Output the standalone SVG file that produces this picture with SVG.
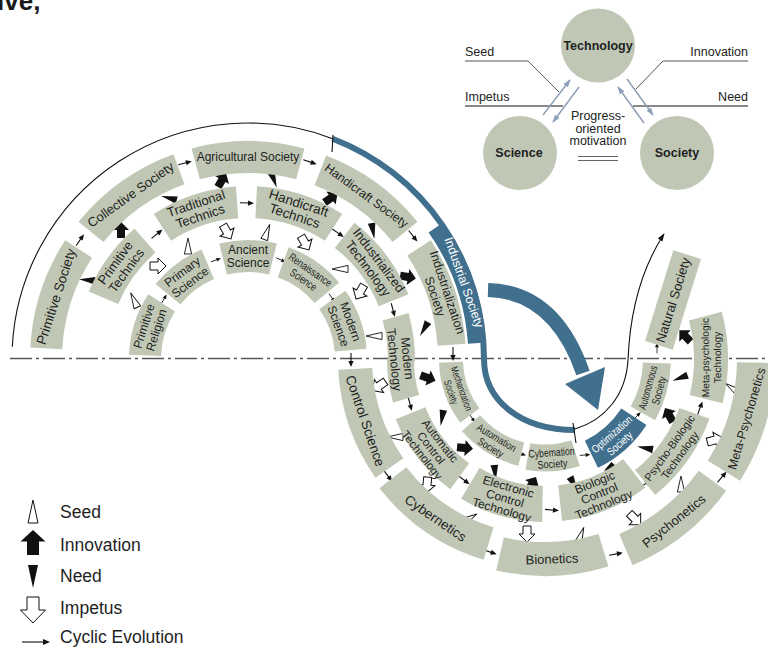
<svg xmlns="http://www.w3.org/2000/svg" width="768" height="647" viewBox="0 0 768 647">
<style>
.arc{fill:none;stroke:#c0c8b5}
.barc{fill:none;stroke:#41708e}
.t{font-family:"Liberation Sans",Arial,sans-serif;fill:#1e1e1e;text-anchor:middle}
.w{fill:#ffffff}
.leg{font-family:"Liberation Sans",Arial,sans-serif;font-size:17.5px;fill:#1e1e1e}
.ins{font-family:"Liberation Sans",Arial,sans-serif;font-size:12.5px;fill:#222}
.bold{font-weight:bold;text-anchor:middle}
.gline{stroke:#8ea0b5;stroke-width:1.5;fill:none}
</style>
<defs>
<g id="cyc"><line x1="-7" y1="0" x2="2" y2="0" stroke="#111" stroke-width="1.1"/><polygon points="7,0 1,-2.6 1,2.6" fill="#111"/></g>
<polygon id="seed" points="8,0 -8,-3.6 -8,3.6" fill="#fff" stroke="#111" stroke-width="0.9"/>
<polygon id="need" points="8,0 -8,-3.8 -8,3.8" fill="#111"/>
<polygon id="inno" points="8,0 0,-8 0,-4 -8,-4 -8,4 0,4 0,8" fill="#111"/>
<polygon id="imp" points="8,0 0,-8 0,-4 -8,-4 -8,4 0,4 0,8" fill="#fff" stroke="#111" stroke-width="1"/>
<marker id="ah" viewBox="0 0 10 10" refX="9" refY="5" markerWidth="8" markerHeight="8" orient="auto" markerUnits="userSpaceOnUse"><path d="M0,1.5 L10,5 L0,8.5 z" fill="#111"/></marker>
<marker id="ga" viewBox="0 0 10 10" refX="9" refY="5" markerWidth="8" markerHeight="8" orient="auto" markerUnits="userSpaceOnUse"><path d="M0,1.5 L10,5 L0,8.5 z" fill="#8ea0b5"/></marker>
</defs>

<text x="-3" y="10" font-family="Liberation Sans, Arial, sans-serif" font-size="26" font-weight="bold" fill="#1a1a1a">ive,</text>

<line x1="10" y1="358.5" x2="768" y2="358.5" stroke="#555" stroke-width="1.3" stroke-dasharray="22 4 3 4"/>

<g id="connectors">
  <path d="M12.3,346.7 A236,236 0 0 1 332.6,138.7" fill="none" stroke="#111" stroke-width="1.1"/>
  <path d="M332.6,138.7 A236,236 0 0 1 484,359 C484,400 520,430 575,430" fill="none" stroke="#41708e" stroke-width="6"/>
  <line x1="333" y1="135" x2="332" y2="152" stroke="#111" stroke-width="1.1"/>
  <line x1="573" y1="423" x2="576" y2="443" stroke="#111" stroke-width="1.1"/>
  <path d="M575,429 C605,420 626,395 628,360 C630,310 642,268 664,234" fill="none" stroke="#111" stroke-width="1.1" marker-end="url(#ah)"/>
  <path d="M488,290 Q555,292 583,373" fill="none" stroke="#41708e" stroke-width="14"/>
  <polygon points="565,384 605,367 598,410" fill="#41708e"/>

  <use href="#cyc" transform="translate(80 240) rotate(-56)"/>
  <use href="#cyc" transform="translate(157 234) rotate(-39)"/>
  <use href="#cyc" transform="translate(164 299) rotate(-60) scale(0.75)"/>
  <use href="#cyc" transform="translate(216 260) rotate(-20) scale(0.75)"/>
  <use href="#cyc" transform="translate(185 163) rotate(-15)"/>
  <use href="#cyc" transform="translate(247 203) rotate(2)"/>
  <use href="#cyc" transform="translate(281 260) rotate(25) scale(0.75)"/>
  <use href="#cyc" transform="translate(310 162) rotate(18)"/>
  <use href="#cyc" transform="translate(338 233) rotate(35)"/>
  <use href="#cyc" transform="translate(413 236) rotate(52)"/>
  <use href="#cyc" transform="translate(332 298) rotate(55) scale(0.75)"/>
  <use href="#cyc" transform="translate(393 310) rotate(75)"/>
  <use href="#cyc" transform="translate(351 360) rotate(90)"/>
  <use href="#cyc" transform="translate(453 354) rotate(90)"/>
  <use href="#cyc" transform="translate(410 404) rotate(75)"/>
  <use href="#cyc" transform="translate(472 418) rotate(55) scale(0.75)"/>
  <use href="#cyc" transform="translate(388 476) rotate(53)"/>
  <use href="#cyc" transform="translate(464 480) rotate(37)"/>
  <use href="#cyc" transform="translate(521 454) rotate(15) scale(0.75)"/>
  <use href="#cyc" transform="translate(490 552) rotate(18)"/>
  <use href="#cyc" transform="translate(552 510) rotate(5)"/>
  <use href="#cyc" transform="translate(585 455) rotate(-5) scale(0.75)"/>
  <use href="#cyc" transform="translate(616 554) rotate(-10)"/>
  <use href="#cyc" transform="translate(645 484) rotate(-35)"/>
  <use href="#cyc" transform="translate(637 416) rotate(-45) scale(0.75)"/>
  <use href="#cyc" transform="translate(722 477) rotate(-50)"/>
  <use href="#cyc" transform="translate(700 408) rotate(-70)"/>
  <use href="#cyc" transform="translate(657 348) rotate(-90) scale(0.75)"/>

  <use href="#inno" transform="translate(121 230) rotate(-90)"/>
  <use href="#inno" transform="translate(222 180) rotate(-60)"/>
  <use href="#inno" transform="translate(331 198) rotate(-35)"/>
  <use href="#inno" transform="translate(408 277) rotate(10)"/>
  <use href="#inno" transform="translate(428 378) rotate(20)"/>
  <use href="#inno" transform="translate(465 448) rotate(5)"/>
  <use href="#inno" transform="translate(532 484) rotate(-60)"/>
  <use href="#inno" transform="translate(612 470) rotate(-95)"/>
  <use href="#inno" transform="translate(669 415) rotate(-120)"/>
  <use href="#inno" transform="translate(685 336) rotate(-135)"/>

  <use href="#need" transform="translate(87 280) rotate(185)"/>
  <use href="#need" transform="translate(169 198) rotate(195)"/>
  <use href="#need" transform="translate(274 180) rotate(70)"/>
  <use href="#need" transform="translate(373 231) rotate(80)"/>
  <use href="#need" transform="translate(424 329) rotate(120)"/>
  <use href="#need" transform="translate(442 418) rotate(100)"/>
  <use href="#need" transform="translate(495 473) rotate(85)"/>
  <use href="#need" transform="translate(574 484) rotate(60)"/>
  <use href="#need" transform="translate(645 448) rotate(190)"/>
  <use href="#need" transform="translate(680 378) rotate(160)"/>

  <use href="#seed" transform="translate(188 246) rotate(-90)"/>
  <use href="#seed" transform="translate(134 300) rotate(-115)"/>
  <use href="#seed" transform="translate(267 232) rotate(-70)"/>
  <use href="#seed" transform="translate(340 269) rotate(180)"/>
  <use href="#seed" transform="translate(374 336) rotate(180)"/>
  <use href="#seed" transform="translate(395 437) rotate(180)"/>
  <use href="#seed" transform="translate(470 518) rotate(-30)"/>
  <use href="#seed" transform="translate(581 535) rotate(-70)"/>
  <use href="#seed" transform="translate(681 484) rotate(-90)"/>
  <use href="#seed" transform="translate(732 388) rotate(-145)"/>

  <use href="#imp" transform="translate(158 266) rotate(0)"/>
  <use href="#imp" transform="translate(227 232) rotate(60)"/>
  <use href="#imp" transform="translate(305 243) rotate(60)"/>
  <use href="#imp" transform="translate(360 292) rotate(120)"/>
  <use href="#imp" transform="translate(379 386) rotate(145)"/>
  <use href="#imp" transform="translate(427 485) rotate(95)"/>
  <use href="#imp" transform="translate(527 534) rotate(90)"/>
  <use href="#imp" transform="translate(635 519) rotate(45)"/>
  <use href="#imp" transform="translate(715 440) rotate(-15)"/>

  <polyline points="465,61 528,61 559,92" fill="none" stroke="#555" stroke-width="1"/>
  <line x1="465" y1="106" x2="563" y2="106" stroke="#111" stroke-width="1"/>
  <polyline points="748,61 663,61 636,89" fill="none" stroke="#555" stroke-width="1"/>
  <line x1="633" y1="106" x2="748" y2="106" stroke="#111" stroke-width="1"/>
  <line class="gline" x1="543" y1="115" x2="570" y2="80" marker-end="url(#ga)"/>
  <line class="gline" x1="579" y1="87" x2="553" y2="122" marker-end="url(#ga)"/>
  <line class="gline" x1="627" y1="79" x2="653" y2="115" marker-end="url(#ga)"/>
  <line class="gline" x1="644" y1="123" x2="618" y2="87" marker-end="url(#ga)"/>
</g>

<g id="nodes">
  <g id="primitive-society"><circle class="arc" cx="248" cy="359" r="202" stroke-width="32" stroke-dasharray="105.8 3000" transform="rotate(-177 248 359)"/><text class="t" font-size="13.5" y="4.8" transform="translate(248 359) rotate(-162) translate(202 0) rotate(90)">Primitive Society</text></g>
  <g id="collective-society"><circle class="arc" cx="248" cy="359" r="202" stroke-width="32" stroke-dasharray="109.3 3000" transform="rotate(-141 248 359)"/><text class="t" font-size="13" y="4.6" transform="translate(248 359) rotate(-125.5) translate(202 0) rotate(90)">Collective Society</text></g>
  <g id="agricultural-society"><circle class="arc" cx="248" cy="359" r="202" stroke-width="32" stroke-dasharray="105.8 3000" transform="rotate(-105 248 359)"/><text class="t" font-size="12" y="4.3" transform="translate(248 359) rotate(-90) translate(202 0) rotate(90)">Agricultural Society</text></g>
  <g id="handicraft-society"><circle class="arc" cx="248" cy="359" r="202" stroke-width="32" stroke-dasharray="105.8 3000" transform="rotate(-69 248 359)"/><text class="t" font-size="12.3" y="4.4" transform="translate(248 359) rotate(-54) translate(202 0) rotate(90)">Handicraft Society</text></g>
  <g id="industrialization-society"><circle class="arc" cx="248" cy="359" r="204" stroke-width="28" stroke-dasharray="103.3 3000" transform="rotate(-33 248 359)"/><text class="t" font-size="12.5" transform="translate(248 359) rotate(-18.5) translate(204 0) rotate(90)"><tspan x="0" y="-2">Industrialization</tspan><tspan x="0" y="11">Society</tspan></text></g>
  <g id="industrial-society"><circle class="barc" cx="248" cy="359" r="229.5" stroke-width="18" stroke-dasharray="124.2 3000" transform="rotate(-35 248 359)"/><text class="t w" font-size="12.5" y="4.5" transform="translate(248 359) rotate(-19.5) translate(229.5 0) rotate(90)">Industrial Society</text></g>

  <g id="primitive-technics"><circle class="arc" cx="248" cy="359" r="157" stroke-width="32" stroke-dasharray="71.2 3000" transform="rotate(-157 248 359)"/><text class="t" font-size="13" transform="translate(248 359) rotate(-144) translate(157 0) rotate(90)"><tspan x="0" y="-2.5">Primitive</tspan><tspan x="0" y="11">Technics</tspan></text></g>
  <g id="traditional-technics"><circle class="arc" cx="248" cy="359" r="157" stroke-width="32" stroke-dasharray="79.5 3000" transform="rotate(-123 248 359)"/><text class="t" font-size="13" transform="translate(248 359) rotate(-108.5) translate(157 0) rotate(90)"><tspan x="0" y="-2.5">Traditional</tspan><tspan x="0" y="11">Technics</tspan></text></g>
  <g id="handicraft-technics"><circle class="arc" cx="248" cy="359" r="157" stroke-width="32" stroke-dasharray="82.2 3000" transform="rotate(-87 248 359)"/><text class="t" font-size="13.5" transform="translate(248 359) rotate(-72) translate(157 0) rotate(90)"><tspan x="0" y="-2.5">Handicraft</tspan><tspan x="0" y="11">Technics</tspan></text></g>
  <g id="industrialized-technology"><circle class="arc" cx="248" cy="359" r="157" stroke-width="32" stroke-dasharray="82.2 3000" transform="rotate(-52 248 359)"/><text class="t" font-size="13" transform="translate(248 359) rotate(-37) translate(157 0) rotate(90)"><tspan x="0" y="-2.5">Industrialized</tspan><tspan x="0" y="11">Technology</tspan></text></g>
  <g id="modern-technology"><circle class="arc" cx="248" cy="359" r="153.5" stroke-width="27" stroke-dasharray="45.5 3000" transform="rotate(-16 248 359)"/><circle class="arc" cx="545" cy="359" r="144.5" stroke-width="27" stroke-dasharray="40.4 3000" transform="rotate(164 545 359)"/><text class="t" font-size="12.5" transform="translate(401 359) rotate(84)"><tspan x="0" y="-2">Modern</tspan><tspan x="0" y="11">Technology</tspan></text></g>

  <g id="primitive-religion"><circle class="arc" cx="248" cy="359" r="103" stroke-width="32" stroke-dasharray="55.7 3000" transform="rotate(-178 248 359)"/><text class="t" font-size="12" transform="translate(248 359) rotate(-162.5) translate(103 0) rotate(90)"><tspan x="0" y="-2">Primitive</tspan><tspan x="0" y="11">Religion</tspan></text></g>
  <g id="primary-science"><circle class="arc" cx="248" cy="359" r="103" stroke-width="32" stroke-dasharray="50.3 3000" transform="rotate(-141 248 359)"/><text class="t" font-size="12" transform="translate(248 359) rotate(-127) translate(103 0) rotate(90)"><tspan x="0" y="-2">Primary</tspan><tspan x="0" y="11">Science</tspan></text></g>
  <g id="ancient-science"><circle class="arc" cx="248" cy="359" r="103" stroke-width="32" stroke-dasharray="50.3 3000" transform="rotate(-104 248 359)"/><text class="t" font-size="12" transform="translate(248 359) rotate(-90) translate(103 0) rotate(90)"><tspan x="0" y="-2">Ancient</tspan><tspan x="0" y="11">Science</tspan></text></g>
  <g id="renaissance-science"><circle class="arc" cx="248" cy="359" r="103" stroke-width="32" stroke-dasharray="53.9 3000" transform="rotate(-70 248 359)"/><text class="t" font-size="11" y="-2" textLength="50" lengthAdjust="spacingAndGlyphs" transform="translate(248 359) rotate(-55) translate(103 0) rotate(90)">Renaissance</text><text class="t" font-size="11" y="10" textLength="30" lengthAdjust="spacingAndGlyphs" transform="translate(248 359) rotate(-55) translate(103 0) rotate(90)">Science</text></g>
  <g id="modern-science"><circle class="arc" cx="248" cy="359" r="103" stroke-width="32" stroke-dasharray="53.9 3000" transform="rotate(-35 248 359)"/><text class="t" font-size="12" transform="translate(248 359) rotate(-20) translate(103 0) rotate(90)"><tspan x="0" y="-2">Modern</tspan><tspan x="0" y="11">Science</tspan></text></g>

  <g id="control-science"><circle class="arc" cx="545" cy="359" r="190" stroke-width="34" stroke-dasharray="106.1 3000" transform="rotate(145 545 359)"/><text class="t" font-size="13.5" y="4.8" transform="translate(545 359) rotate(161) translate(190 0) rotate(-90)">Control Science</text></g>
  <g id="cybernetics"><circle class="arc" cx="545" cy="359" r="193" stroke-width="34" stroke-dasharray="117.9 3000" transform="rotate(107 545 359)"/><text class="t" font-size="13.5" y="4.8" transform="translate(545 359) rotate(124.5) translate(193 0) rotate(-90)">Cybernetics</text></g>
  <g id="bionetics"><circle class="arc" cx="545" cy="359" r="200" stroke-width="34" stroke-dasharray="104.7 3000" transform="rotate(73 545 359)"/><text class="t" font-size="13" y="4.6" transform="translate(545 359) rotate(88) translate(200 0) rotate(-90)">Bionetics</text></g>
  <g id="psychonetics"><circle class="arc" cx="545" cy="359" r="207" stroke-width="34" stroke-dasharray="112 3000" transform="rotate(36 545 359)"/><text class="t" font-size="13" y="4.6" transform="translate(545 359) rotate(51.5) translate(207 0) rotate(-90)">Psychonetics</text></g>
  <g id="meta-psychonetics"><circle class="arc" cx="545" cy="359" r="211" stroke-width="38" stroke-dasharray="114.1 3000" transform="rotate(1 545 359)"/><text class="t" font-size="12.5" y="4.5" transform="translate(545 359) rotate(16.5) translate(210 0) rotate(-90)">Meta-Psychonetics</text></g>

  <g id="automatic-control-technology"><circle class="arc" cx="545" cy="359" r="145" stroke-width="32" stroke-dasharray="81 3000" transform="rotate(126 545 359)"/><text class="t" font-size="11.5" transform="translate(545 359) rotate(142) translate(145 0) rotate(-90)"><tspan x="0" y="-8">Automatic</tspan><tspan x="0" y="3.5">Control</tspan><tspan x="0" y="15">Technology</tspan></text></g>
  <g id="electronic-control-technology"><circle class="arc" cx="545" cy="359" r="145" stroke-width="36" stroke-dasharray="75.9 3000" transform="rotate(91 545 359)"/><text class="t" font-size="12" transform="translate(545 359) rotate(106) translate(145 0) rotate(-90)"><tspan x="0" y="-8">Electronic</tspan><tspan x="0" y="4">Control</tspan><tspan x="0" y="16">Technology</tspan></text></g>
  <g id="biologic-control-technology"><circle class="arc" cx="545" cy="359" r="145" stroke-width="36" stroke-dasharray="81 3000" transform="rotate(52 545 359)"/><text class="t" font-size="12" transform="translate(545 359) rotate(68) translate(145 0) rotate(-90)"><tspan x="0" y="-8">Biologic</tspan><tspan x="0" y="4">Control</tspan><tspan x="0" y="16">Technology</tspan></text></g>
  <g id="psycho-biologic-technology"><circle class="arc" cx="545" cy="359" r="159" stroke-width="32" stroke-dasharray="86 3000" transform="rotate(20 545 359)"/><text class="t" font-size="11" transform="translate(545 359) rotate(35.5) translate(159 0) rotate(-90)"><tspan x="0" y="-2">Psycho-Biologic</tspan><tspan x="0" y="10.5">Technology</tspan></text></g>
  <g id="meta-psychologic-technology"><circle class="arc" cx="545" cy="359" r="166" stroke-width="34" stroke-dasharray="84 3000" transform="rotate(-15 545 359)"/><text class="t" font-size="10.2" transform="translate(545 359) rotate(-0.5) translate(166 0) rotate(-90)"><tspan x="0" y="-2">Meta-psychologic</tspan><tspan x="0" y="10">Technology</tspan></text></g>

  <g id="mechanization-society"><circle class="arc" cx="545" cy="359" r="94" stroke-width="24" stroke-dasharray="57.4 3000" transform="rotate(143 545 359)"/><text class="t" font-size="10" y="-2" textLength="46" lengthAdjust="spacingAndGlyphs" transform="translate(545 359) rotate(160.5) translate(94 0) rotate(-90)">Mechanization</text><text class="t" font-size="10" y="9" textLength="25" lengthAdjust="spacingAndGlyphs" transform="translate(545 359) rotate(160.5) translate(94 0) rotate(-90)">Society</text></g>
  <g id="automation-society"><circle class="arc" cx="545" cy="359" r="98" stroke-width="24" stroke-dasharray="59.9 3000" transform="rotate(104 545 359)"/><text class="t" font-size="10.5" y="-2" textLength="44" lengthAdjust="spacingAndGlyphs" transform="translate(545 359) rotate(121.5) translate(98 0) rotate(-90)">Automation</text><text class="t" font-size="10.5" y="9.5" textLength="28" lengthAdjust="spacingAndGlyphs" transform="translate(545 359) rotate(121.5) translate(98 0) rotate(-90)">Society</text></g>
  <g id="cybemation-society"><circle class="arc" cx="545" cy="359" r="99" stroke-width="27" stroke-dasharray="48.4 3000" transform="rotate(72 545 359)"/><text class="t" font-size="11" y="-1.5" textLength="46" lengthAdjust="spacingAndGlyphs" transform="translate(545 359) rotate(86) translate(99 0) rotate(-90)">Cybemation</text><text class="t" font-size="11" y="10" textLength="30" lengthAdjust="spacingAndGlyphs" transform="translate(545 359) rotate(86) translate(99 0) rotate(-90)">Society</text></g>
  <g id="optimization-society"><circle class="barc" cx="545" cy="359" r="106" stroke-width="30" stroke-dasharray="57.4 3000" transform="rotate(33 545 359)"/><text class="t w" font-size="11" y="-1.5" textLength="50" lengthAdjust="spacingAndGlyphs" transform="translate(545 359) rotate(48.5) translate(106 0) rotate(-90)">Optimization</text><text class="t w" font-size="11" y="10.5" textLength="30" lengthAdjust="spacingAndGlyphs" transform="translate(545 359) rotate(48.5) translate(106 0) rotate(-90)">Society</text></g>
  <g id="autonomous-society"><circle class="arc" cx="545" cy="359" r="112" stroke-width="28" stroke-dasharray="52.8 3000" transform="rotate(2 545 359)"/><text class="t" font-size="11" y="-1.5" textLength="45" lengthAdjust="spacingAndGlyphs" transform="translate(545 359) rotate(15.5) translate(112 0) rotate(-90)">Autonomous</text><text class="t" font-size="11" y="10" textLength="29" lengthAdjust="spacingAndGlyphs" transform="translate(545 359) rotate(15.5) translate(112 0) rotate(-90)">Society</text></g>
  <g id="natural-society"><rect x="-47.5" y="-14.5" width="95" height="29" fill="#c0c8b5" transform="translate(673 300) rotate(-72.7)"/><text class="t" font-size="13" y="4.6" transform="translate(673 300) rotate(-72.7)">Natural Society</text></g>

  <g id="technology"><circle cx="598" cy="45.5" r="37" fill="#c0c8b5"/><text class="ins bold" x="598" y="50" font-size="12">Technology</text></g>
  <g id="science"><circle cx="520" cy="153" r="37" fill="#c0c8b5"/><text class="ins bold" x="519" y="157" font-size="12.5">Science</text></g>
  <g id="society"><circle cx="677" cy="153" r="37" fill="#c0c8b5"/><text class="ins bold" x="677" y="157" font-size="12.5">Society</text></g>
</g>

<g id="inset-labels">
  <text class="ins" x="465" y="56">Seed</text>
  <text class="ins" x="465" y="101">Impetus</text>
  <text class="ins" x="748" y="56" text-anchor="end">Innovation</text>
  <text class="ins" x="748" y="101" text-anchor="end">Need</text>
  <text class="ins" x="598" y="120" font-size="11.5" text-anchor="middle">Progress-</text>
  <text class="ins" x="598" y="132.5" font-size="11.5" text-anchor="middle">oriented</text>
  <text class="ins" x="598" y="145" font-size="11.5" text-anchor="middle">motivation</text>
  <line x1="578" y1="156.5" x2="618" y2="156.5" stroke="#666" stroke-width="1"/>
  <line x1="578" y1="160.5" x2="618" y2="160.5" stroke="#666" stroke-width="1"/>
</g>

<g id="legend">
  <polygon points="33,500 38,523 28,523" fill="#fff" stroke="#111" stroke-width="1"/>
  <text class="leg" x="60" y="518">Seed</text>
  <polygon points="33,530 45.5,541.5 39,541.5 39,555 27,555 27,541.5 20.5,541.5" fill="#111"/>
  <text class="leg" x="60" y="551">Innovation</text>
  <polygon points="28,565 38,565 33,588" fill="#111"/>
  <text class="leg" x="60" y="582">Need</text>
  <polygon points="27,597 39,597 39,610 45.5,610 33,623 20.5,610 27,610" fill="#fff" stroke="#111" stroke-width="1"/>
  <text class="leg" x="60" y="614">Impetus</text>
  <line x1="22" y1="642" x2="44" y2="642" stroke="#111" stroke-width="1.1"/>
  <polygon points="50,642 43,639 43,645" fill="#111"/>
  <text class="leg" x="60" y="643">Cyclic Evolution</text>
</g>
</svg>
